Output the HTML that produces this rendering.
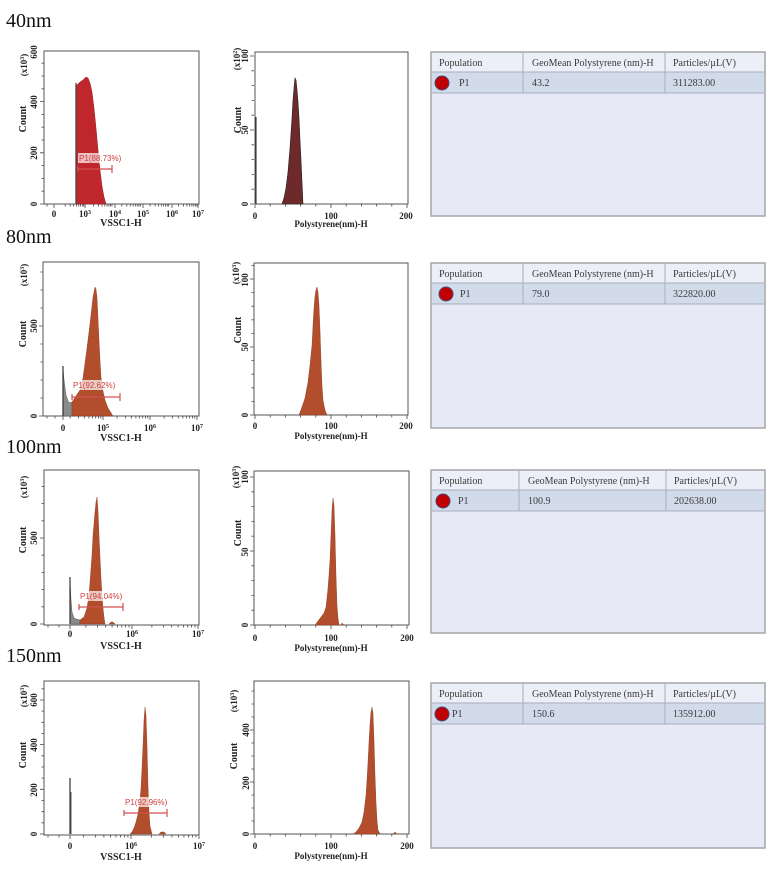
<!DOCTYPE html>
<html><head><meta charset="utf-8">
<style>
html,body{margin:0;padding:0;background:#fff;}
svg{display:block;}
.ttl{font-family:"Liberation Serif",serif;font-size:20px;fill:#111;}
.tk{font-family:"Liberation Serif",serif;font-size:9px;font-weight:bold;fill:#222;text-anchor:middle;}
.al{font-family:"Liberation Serif",serif;font-size:10px;font-weight:bold;fill:#222;text-anchor:middle;}
.al2{font-family:"Liberation Serif",serif;font-size:9px;font-weight:bold;fill:#222;text-anchor:middle;}
.gt{font-family:"Liberation Sans",sans-serif;font-size:8px;fill:#d04040;}
.tb{font-family:"Liberation Serif",serif;font-size:10px;fill:#3a3a3a;}
.box{fill:none;stroke:#555;stroke-width:1;}
.gl{stroke:#d05050;stroke-width:1.2;fill:none;}
.sien{fill:#b24e2c;stroke:#8a3a22;stroke-width:0.4;}
</style></head>
<body>
<svg id="s" width="780" height="869" viewBox="0 0 780 869" xmlns="http://www.w3.org/2000/svg">
<rect width="780" height="869" fill="#fff"/>
<!-- Titles -->
<text class="ttl" x="6" y="27">40nm</text>
<text class="ttl" x="6" y="243">80nm</text>
<text class="ttl" x="6" y="453">100nm</text>
<text class="ttl" x="6" y="662">150nm</text>

<g id="ticks" stroke="#444" stroke-width="0.8" fill="none"></g>

<!-- ===== ROW 1 ===== -->
<rect class="box" x="44" y="51" width="155" height="153"/>
<polygon points="76,204 76,86 78,84 80,82 83,80 86,77 88,78 90,83 92,92 94,108 96,128 98,150 100,170 102,186 104,197 106,204" fill="#c0272d" stroke="#9a1e22" stroke-width="0.5"/>
<line x1="76" y1="204" x2="76" y2="83" stroke="#444" stroke-width="1.3"/>
<rect x="78" y="153" width="33" height="10" fill="#fff" opacity="0.7"/>
<text class="gt" x="79" y="161">P1(88.73%)</text>
<path class="gl" d="M78 169H112M112 165V173M78 166V172"/>
<text class="tk" x="54" y="217">0</text>
<text class="tk" x="85" y="217">10<tspan dy="-3" font-size="6">3</tspan></text>
<text class="tk" x="115" y="217">10<tspan dy="-3" font-size="6">4</tspan></text>
<text class="tk" x="143" y="217">10<tspan dy="-3" font-size="6">5</tspan></text>
<text class="tk" x="172" y="217">10<tspan dy="-3" font-size="6">6</tspan></text>
<text class="tk" x="198" y="217">10<tspan dy="-3" font-size="6">7</tspan></text>
<text class="al" x="121" y="226">VSSC1-H</text>
<text class="tk" transform="translate(37,204) rotate(-90)">0</text>
<text class="tk" transform="translate(37,153) rotate(-90)">200</text>
<text class="tk" transform="translate(37,102) rotate(-90)">400</text>
<text class="tk" transform="translate(37,52) rotate(-90)">600</text>
<text class="al2" transform="translate(27,65) rotate(-90)">(x10<tspan dy="-3" font-size="6">3</tspan><tspan dy="3">)</tspan></text>
<text class="al" transform="translate(26,119) rotate(-90)">Count</text>

<rect class="box" x="255" y="52" width="153" height="152"/>
<polygon points="282,204 284,198 286,188 288,172 290,148 292,118 293,100 294,88 295,78 296,80 297,90 298,102 299,118 300,140 301,160 302,182 303,204" fill="#6e2a2a" stroke="#222" stroke-width="0.6"/>
<line x1="256" y1="117" x2="256" y2="204" stroke="#222" stroke-width="1"/>
<text class="tk" x="255" y="219">0</text>
<text class="tk" x="331" y="219">100</text>
<text class="tk" x="406" y="219">200</text>
<text class="al2" x="331" y="227">Polystyrene(nm)-H</text>
<text class="tk" transform="translate(248,204) rotate(-90)">0</text>
<text class="tk" transform="translate(248,130) rotate(-90)">50</text>
<text class="tk" transform="translate(248,56) rotate(-90)">100</text>
<text class="al2" transform="translate(240,59) rotate(-90)">(x10<tspan dy="-3" font-size="6">2</tspan><tspan dy="3">)</tspan></text>
<text class="al" transform="translate(241,120) rotate(-90)">Count</text>

<!-- table 1 -->
<rect x="431" y="52" width="334" height="164" fill="#e7eaf6" stroke="#a6a6a6" stroke-width="1.5"/>
<rect x="432" y="53" width="332" height="19" fill="#edeff8"/>
<rect x="432" y="72" width="332" height="21" fill="#d2dbea"/>
<path d="M432 72H764M432 93H764M523 52V93M665 52V93" stroke="#a8aebc" stroke-width="1"/>
<text class="tb" x="439" y="66">Population</text>
<text class="tb" x="532" y="66">GeoMean Polystyrene (nm)-H</text>
<text class="tb" x="673" y="66">Particles/µL(V)</text>
<circle cx="442" cy="83" r="7" fill="#c00000" stroke="#4a4a7a" stroke-width="1"/>
<text class="tb" x="459" y="86">P1</text>
<text class="tb" x="532" y="86">43.2</text>
<text class="tb" x="673" y="86">311283.00</text>

<!-- ===== ROW 2 ===== -->
<rect class="box" x="43" y="262" width="156" height="154"/>
<polygon points="63,416 63,367 64,380 66,395 68,401 70,403 72,402 72,416" fill="#8a8a8a" stroke="#555" stroke-width="0.5"/>
<line x1="63" y1="416" x2="63" y2="366" stroke="#333" stroke-width="1.2"/>
<polygon class="sien" points="72,416 72,402 76,396 80,390 83,378 85,363 87,348 89,332 91,315 93,297 95,287 96,289 97,297 98,318 99,340 100,360 101,377 103,391 105,400 108,408 113,416"/>
<rect x="72" y="380" width="40" height="10" fill="#fff" opacity="0.7"/>
<text class="gt" x="73" y="388">P1(92.62%)</text>
<path class="gl" d="M72 397H120M120 393V401M72 394V400"/>
<text class="tk" x="63" y="431">0</text>
<text class="tk" x="103" y="431">10<tspan dy="-3" font-size="6">5</tspan></text>
<text class="tk" x="150" y="431">10<tspan dy="-3" font-size="6">6</tspan></text>
<text class="tk" x="197" y="431">10<tspan dy="-3" font-size="6">7</tspan></text>
<text class="al" x="121" y="441">VSSC1-H</text>
<text class="tk" transform="translate(37,416) rotate(-90)">0</text>
<text class="tk" transform="translate(37,326) rotate(-90)">500</text>
<text class="al2" transform="translate(27,275) rotate(-90)">(x10<tspan dy="-3" font-size="6">3</tspan><tspan dy="3">)</tspan></text>
<text class="al" transform="translate(26,334) rotate(-90)">Count</text>

<rect class="box" x="254" y="263" width="154" height="152"/>
<polygon class="sien" points="299,415 302,407 305,398 308,382 310,365 312,345 313,325 314,308 315,296 316,290 317,287 318,292 319,305 320,330 321,360 322,385 323,400 325,410 327,415"/>
<text class="tk" x="255" y="429">0</text>
<text class="tk" x="331" y="429">100</text>
<text class="tk" x="406" y="429">200</text>
<text class="al2" x="331" y="439">Polystyrene(nm)-H</text>
<text class="tk" transform="translate(248,415) rotate(-90)">0</text>
<text class="tk" transform="translate(248,347) rotate(-90)">50</text>
<text class="tk" transform="translate(248,280) rotate(-90)">100</text>
<text class="al2" transform="translate(239,273) rotate(-90)">(x10<tspan dy="-3" font-size="6">3</tspan><tspan dy="3">)</tspan></text>
<text class="al" transform="translate(241,330) rotate(-90)">Count</text>

<!-- table 2 -->
<rect x="431" y="263" width="334" height="165" fill="#e7eaf6" stroke="#a6a6a6" stroke-width="1.5"/>
<rect x="432" y="264" width="332" height="19" fill="#edeff8"/>
<rect x="432" y="283" width="332" height="21" fill="#d2dbea"/>
<path d="M432 283H764M432 304H764M523 263V304M665 263V304" stroke="#a8aebc" stroke-width="1"/>
<text class="tb" x="439" y="277">Population</text>
<text class="tb" x="532" y="277">GeoMean Polystyrene (nm)-H</text>
<text class="tb" x="673" y="277">Particles/µL(V)</text>
<circle cx="446" cy="294" r="7" fill="#c00000" stroke="#4a4a7a" stroke-width="1"/>
<text class="tb" x="460" y="297">P1</text>
<text class="tb" x="532" y="297">79.0</text>
<text class="tb" x="673" y="297">322820.00</text>

<!-- ===== ROW 3 ===== -->
<rect class="box" x="44" y="470" width="155" height="155"/>
<polygon points="70,624 70,578 71,600 72,612 74,618 76,619 80,620 80,624" fill="#8a8a8a" stroke="#555" stroke-width="0.5"/>
<line x1="70" y1="624" x2="70" y2="577" stroke="#333" stroke-width="1.2"/>
<polygon class="sien" points="80,624 80,620 84,617 87,608 89,595 90,582 92,555 93,535 95,512 96,502 97,497 98,510 99,535 100,557 101,578 102,595 103,608 104,617 105,624"/>
<polygon class="sien" points="109,624 111,622 113,622 115,624"/>
<rect x="79" y="591" width="42" height="10" fill="#fff" opacity="0.7"/>
<text class="gt" x="80" y="599">P1(94.04%)</text>
<path class="gl" d="M79 607H123M123 603V611M79 604V610"/>
<text class="tk" x="70" y="637">0</text>
<text class="tk" x="132" y="637">10<tspan dy="-3" font-size="6">6</tspan></text>
<text class="tk" x="198" y="637">10<tspan dy="-3" font-size="6">7</tspan></text>
<text class="al" x="121" y="649">VSSC1-H</text>
<text class="tk" transform="translate(37,624) rotate(-90)">0</text>
<text class="tk" transform="translate(37,538) rotate(-90)">500</text>
<text class="al2" transform="translate(27,487) rotate(-90)">(x10<tspan dy="-3" font-size="6">3</tspan><tspan dy="3">)</tspan></text>
<text class="al" transform="translate(26,540) rotate(-90)">Count</text>

<rect class="box" x="254" y="471" width="155" height="154"/>
<polygon class="sien" points="315,625 318,621 321,617 324,613 326,607 327,598 328,588 329,575 330,560 331,535 332,510 333,498 334,505 335,535 336,575 337,605 338,618 339,625"/>
<polygon class="sien" points="341,625 342,623 344,625"/>
<text class="tk" x="255" y="641">0</text>
<text class="tk" x="331" y="641">100</text>
<text class="tk" x="407" y="641">200</text>
<text class="al2" x="331" y="651">Polystyrene(nm)-H</text>
<text class="tk" transform="translate(248,625) rotate(-90)">0</text>
<text class="tk" transform="translate(248,552) rotate(-90)">50</text>
<text class="tk" transform="translate(248,477) rotate(-90)">100</text>
<text class="al2" transform="translate(239,477) rotate(-90)">(x10<tspan dy="-3" font-size="6">3</tspan><tspan dy="3">)</tspan></text>
<text class="al" transform="translate(241,533) rotate(-90)">Count</text>

<!-- table 3 -->
<rect x="431" y="470" width="334" height="163" fill="#e7eaf6" stroke="#a6a6a6" stroke-width="1.5"/>
<rect x="432" y="471" width="332" height="19" fill="#edeff8"/>
<rect x="432" y="490" width="332" height="21" fill="#d2dbea"/>
<path d="M432 490H764M432 511H764M519 470V511M666 470V511" stroke="#a8aebc" stroke-width="1"/>
<text class="tb" x="439" y="484">Population</text>
<text class="tb" x="528" y="484">GeoMean Polystyrene (nm)-H</text>
<text class="tb" x="674" y="484">Particles/µL(V)</text>
<circle cx="443" cy="501" r="7" fill="#c00000" stroke="#4a4a7a" stroke-width="1"/>
<text class="tb" x="458" y="504">P1</text>
<text class="tb" x="528" y="504">100.9</text>
<text class="tb" x="674" y="504">202638.00</text>

<!-- ===== ROW 4 ===== -->
<rect class="box" x="44" y="681" width="155" height="154"/>
<line x1="70" y1="834" x2="70" y2="778" stroke="#333" stroke-width="1.2"/>
<line x1="71" y1="834" x2="71" y2="792" stroke="#555" stroke-width="1"/>
<polygon class="sien" points="130,834 132,832 134,828 136,822 138,814 140,800 141,788 142,768 143,745 144,720 145,707 146,715 147,745 148,785 149,812 150,826 152,834"/>
<polygon class="sien" points="159,834 161,832 164,832 166,834"/>
<rect x="124" y="797" width="42" height="10" fill="#fff" opacity="0.7"/>
<text class="gt" x="125" y="805">P1(92.96%)</text>
<path class="gl" d="M124 813H167M167 809V817M124 810V816"/>
<text class="tk" x="70" y="849">0</text>
<text class="tk" x="131" y="849">10<tspan dy="-3" font-size="6">6</tspan></text>
<text class="tk" x="199" y="849">10<tspan dy="-3" font-size="6">7</tspan></text>
<text class="al" x="121" y="860">VSSC1-H</text>
<text class="tk" transform="translate(37,834) rotate(-90)">0</text>
<text class="tk" transform="translate(37,790) rotate(-90)">200</text>
<text class="tk" transform="translate(37,745) rotate(-90)">400</text>
<text class="tk" transform="translate(37,700) rotate(-90)">600</text>
<text class="al2" transform="translate(27,696) rotate(-90)">(x10<tspan dy="-3" font-size="6">3</tspan><tspan dy="3">)</tspan></text>
<text class="al" transform="translate(26,755) rotate(-90)">Count</text>

<rect class="box" x="254" y="681" width="155" height="153"/>
<polygon class="sien" points="353,834 356,832 359,828 362,822 364,812 366,795 367,780 368,762 369,742 370,724 371,712 372,707 373,713 374,740 375,775 376,802 377,820 378,830 380,834"/>
<polygon class="sien" points="393,834 395,832 397,834"/>
<text class="tk" x="255" y="849">0</text>
<text class="tk" x="331" y="849">100</text>
<text class="tk" x="407" y="849">200</text>
<text class="al2" x="331" y="859">Polystyrene(nm)-H</text>
<text class="tk" transform="translate(249,834) rotate(-90)">0</text>
<text class="tk" transform="translate(249,783) rotate(-90)">200</text>
<text class="tk" transform="translate(249,730) rotate(-90)">400</text>
<text class="al2" transform="translate(237,701) rotate(-90)">(x10<tspan dy="-3" font-size="6">3</tspan><tspan dy="3">)</tspan></text>
<text class="al" transform="translate(237,756) rotate(-90)">Count</text>

<!-- table 4 -->
<rect x="431" y="683" width="334" height="165" fill="#e7eaf6" stroke="#a6a6a6" stroke-width="1.5"/>
<rect x="432" y="684" width="332" height="19" fill="#edeff8"/>
<rect x="432" y="703" width="332" height="21" fill="#d2dbea"/>
<path d="M432 703H764M432 724H764M523 683V724M665 683V724" stroke="#a8aebc" stroke-width="1"/>
<text class="tb" x="439" y="697">Population</text>
<text class="tb" x="532" y="697">GeoMean Polystyrene (nm)-H</text>
<text class="tb" x="673" y="697">Particles/µL(V)</text>
<circle cx="442" cy="714" r="7" fill="#c00000" stroke="#4a4a7a" stroke-width="1"/>
<text class="tb" x="452" y="717">P1</text>
<text class="tb" x="532" y="717">150.6</text>
<text class="tb" x="673" y="717">135912.00</text>
</svg>
<script>
(function(){
var d='';
function xt(x,yb,len){d+='M'+x.toFixed(1)+' '+yb+'v'+len;}
function yt(y,xl,len){d+='M'+xl+' '+y.toFixed(1)+'h'+(-len);}
function logMin(start,dec,n){var r=[];for(var i=0;i<n;i++)for(var k=2;k<10;k++)r.push(start+dec*(i+Math.log10(k)));return r;}
var P=[
 {b:204,l:44,xmaj:[54,85,115,143,172,198],xmin:[47].concat(logMin(56.7,28.3,5).filter(function(v){return v>58&&v<199;})),y0:204,ys:12.8,ym:4,yn:12,top:51},
 {b:416,l:43,xmaj:[63,103,150,197],xmin:[47,55].concat(logMin(56,47,3).filter(function(v){return v>66&&v<199;})),y0:416,ys:18,ym:5,yn:8,top:262},
 {b:625,l:44,xmaj:[70,132,198],xmin:[48,59].concat(logMin(66,66,2).filter(function(v){return v>76&&v<199;})),y0:624,ys:17.2,ym:5,yn:8,top:470},
 {b:835,l:44,xmaj:[70,131,199],xmin:[48,59].concat(logMin(63,68,2).filter(function(v){return v>76&&v<199;})),y0:834,ys:11.17,ym:4,yn:13,top:681}
];
P.forEach(function(p){
 p.xmaj.forEach(function(x){xt(x,p.b,4);});
 p.xmin.forEach(function(x){xt(x,p.b,2.5);});
 for(var i=0;i<=p.yn;i++){var y=p.y0-i*p.ys;if(y<p.top-0.5)break;yt(y,p.l,(i%p.ym==0)?4:2.5);}
});
var L=[
 {b:204,y0:204,ys:14.8,ym:5,yn:10,top:52},
 {b:415,y0:415,ys:13.6,ym:5,yn:11,top:263},
 {b:625,y0:625,ys:14.8,ym:5,yn:10,top:471},
 {b:834,y0:834,ys:13,ym:4,yn:11,top:681}
];
L.forEach(function(p){
 for(var i=0;i<=10;i++)xt(255+i*15.2,p.b,(i%5==0)?4:2.5);
 for(var j=0;j<=p.yn;j++){var y=p.y0-j*p.ys;if(y<p.top-0.5)break;yt(y,254,(j%p.ym==0)?4:2.5);}
});
var g=document.getElementById('ticks');
var pa=document.createElementNS('http://www.w3.org/2000/svg','path');
pa.setAttribute('d',d);
g.appendChild(pa);
})();
</script>
</body></html>
